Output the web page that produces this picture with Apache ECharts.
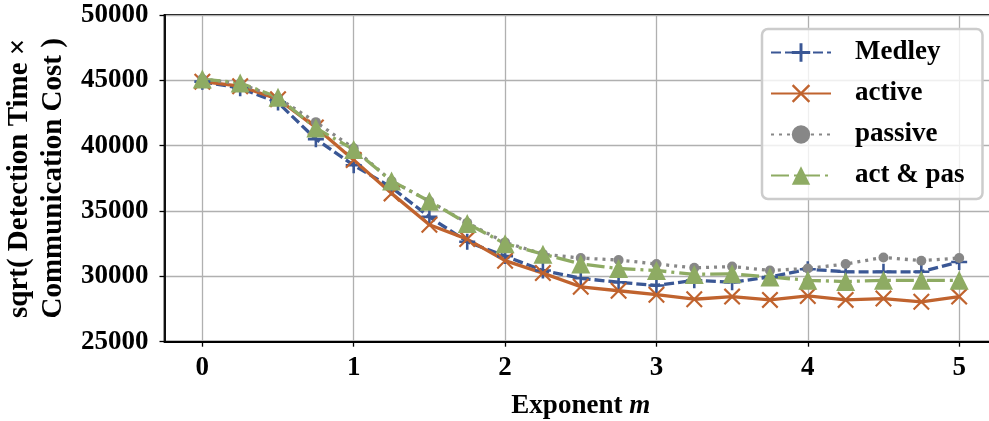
<!DOCTYPE html>
<html>
<head>
<meta charset="utf-8">
<script src="https://cdn.jsdelivr.net/npm/echarts@6/dist/echarts.min.js"></script>
<style>
html,body{margin:0;padding:0;background:#fff;}
#chart{width:989px;height:421px;}
</style>
</head>
<body>
<div id="chart"></div>
<script>
const xValues = [0, 0.25, 0.5, 0.75, 1, 1.25, 1.5, 1.75, 2, 2.25, 2.5, 2.75, 3, 3.25, 3.5, 3.75, 4, 4.25, 4.5, 4.75, 5];
const medley  = [44900, 44400, 43300, 40500, 38500, 36800, 34550, 32650, 31550, 30450, 29850, 29550, 29300, 29700, 29550, 29950, 30550, 30350, 30350, 30350, 31100];
const active  = [44900, 44550, 43550, 41400, 38900, 36350, 33950, 32850, 31200, 30250, 29200, 28900, 28600, 28250, 28450, 28200, 28500, 28200, 28300, 28050, 28450];
const passive = [45100, 44750, 43650, 41800, 39800, 37300, 35750, 34100, 32600, 31700, 31400, 31250, 30950, 30650, 30750, 30450, 30600, 30950, 31450, 31200, 31400];
const actpas  = [45100, 44800, 43700, 41350, 39700, 37300, 35750, 34050, 32500, 31700, 30950, 30600, 30450, 30150, 30200, 29950, 29700, 29600, 29700, 29700, 29700];
const seriesNames = ['Medley', 'active', 'passive', 'act & pas'];
const yTicks = {min: 25000, max: 50000, interval: 5000};

const FONT = '"Liberation Serif", "Times New Roman", serif';
const plusPath = 'path://M4.2,0 H5.8 V4.2 H10 V5.8 H5.8 V10 H4.2 V5.8 H0 V4.2 H4.2 Z';
const crossPath = 'path://M0,0.9 L0.9,0 L5,4.1 L9.1,0 L10,0.9 L5.9,5 L10,9.1 L9.1,10 L5,5.9 L0.9,10 L0,9.1 L4.1,5 Z';

function pairs(vals){ return xValues.map((x,i)=>[x, vals[i]]); }

const chart = echarts.init(document.getElementById('chart'), null, {renderer:'canvas'});
chart.setOption({
  animation: false,
  grid: {left: 164.5, top: 15, right: -8, bottom: 79.3, show: true, borderColor: '#000', borderWidth: 1.8,
         containLabel: false, outerBoundsMode: 'none'},
  xAxis: {
    type: 'value', min: -0.25, max: 5.25, splitNumber: 5,
    axisLine: {show: true, onZero: false, lineStyle: {color: '#000', width: 1.8}},
    axisTick: {show: true, length: 5, lineStyle: {color: '#000', width: 1.3}},
    axisLabel: {show: true, showMinLabel: false, showMaxLabel: false, margin: 13, color: '#000', fontFamily: FONT, fontWeight: 'bold', fontSize: 27,
      formatter: v => (Math.abs(v - Math.round(v)) < 1e-9 ? String(Math.round(v)) : '')},
    splitLine: {show: true, lineStyle: {color: '#b0b0b0', width: 1.3}},
    name: '{a|Exponent }{b|m}', nameLocation: 'middle', nameGap: 51,
    nameTextStyle: {rich: {
      a: {fontFamily: FONT, fontWeight: 'bold', fontSize: 27, color: '#000'},
      b: {fontFamily: FONT, fontWeight: 'bold', fontStyle: 'italic', fontSize: 27, color: '#000'}
    }}
  },
  yAxis: {
    type: 'value', min: yTicks.min, max: yTicks.max, interval: yTicks.interval,
    axisLine: {show: true, onZero: false, lineStyle: {color: '#000', width: 1.8}},
    axisTick: {show: true, length: 5, lineStyle: {color: '#000', width: 1.3}},
    axisLabel: {margin: 16, color: '#000', fontFamily: FONT, fontWeight: 'bold', fontSize: 27, formatter: v => String(v)},
    splitLine: {show: true, lineStyle: {color: '#b0b0b0', width: 1.3}},
    name: 'sqrt( Detection Time ×\nCommunication Cost )', nameLocation: 'middle', nameGap: 94,
    nameTextStyle: {fontFamily: FONT, fontWeight: 'bold', fontSize: 29, color: '#000', lineHeight: 34}
  },
  legend: {
    show: true, orient: 'vertical', left: 762, top: 29,
    padding: [10, 18, 10, 8], itemGap: 14, itemWidth: 60, itemHeight: 23,
    backgroundColor: 'rgba(255,255,255,0.8)', borderColor: '#cccccc', borderWidth: 2.5, borderRadius: 6,
    textStyle: {fontFamily: FONT, fontWeight: 'bold', fontSize: 27, color: '#000', padding: [0,0,0,19]},
    data: seriesNames
  },
  series: [
    {name: seriesNames[0], type: 'line', data: pairs(medley), color: '#3a5795',
     lineStyle: {width: 3.3, type: [10, 4], color: '#3a5795'},
     symbol: plusPath, symbolSize: 16, itemStyle: {color: '#3a5795'}},
    {name: seriesNames[1], type: 'line', data: pairs(active), color: '#c0632e',
     lineStyle: {width: 3.3, type: 'solid', color: '#c0632e'},
     symbol: crossPath, symbolSize: 17, itemStyle: {color: '#c0632e'}},
    {name: seriesNames[2], type: 'line', data: pairs(passive), color: '#878787',
     lineStyle: {width: 3.3, type: [3, 5], color: '#878787'},
     symbol: 'circle', symbolSize: 10, itemStyle: {color: '#878787'}},
    {name: seriesNames[3], type: 'line', data: pairs(actpas), color: '#8eab63',
     lineStyle: {width: 3.3, type: [18, 5, 3, 5], color: '#8eab63'},
     symbol: 'triangle', symbolSize: 19, itemStyle: {color: '#8eab63'}}
  ]
});
</script>
</body>
</html>
